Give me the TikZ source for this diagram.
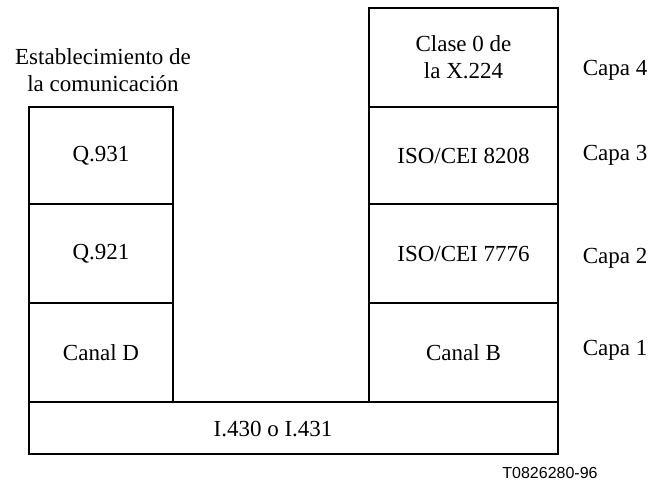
\documentclass[tikz,border=0pt]{standalone}
\usepackage{fontspec}
\setmainfont{Liberation Serif}
\newfontfamily\labsans{Liberation Sans}
\begin{document}
\begin{tikzpicture}[x=1pt,y=-1pt,
  lbox/.style={draw, line width=1.4pt, inner sep=0pt, minimum width=144pt, font=\fontsize{23}{27}\selectfont, align=center},
  rbox/.style={draw, line width=1.4pt, inner sep=0pt, minimum width=189pt, font=\fontsize{23}{27}\selectfont, align=center},
  txt/.style={inner sep=0pt, font=\fontsize{23}{27}\selectfont, align=center}]
\useasboundingbox (0,0) rectangle (653,482);
% bottom bar
\node[draw, line width=1.4pt, inner sep=0pt, minimum width=529pt, minimum height=52pt] (bar) at (293.5,428) {};
\node[txt] (bartxt) at (273,429) {I.430 o I.431};
% left column
\node[lbox, minimum height=97pt] (q931) at (101,155.5) {Q.931};
\node[lbox, minimum height=99pt] (q921) at (101,253.5) {Q.921};
\node[lbox, minimum height=99pt] (cand) at (101,352.5) {Canal D};
% right column
\node[rbox, minimum height=99pt] (x224) at (463.5,57.5) {Clase 0 de\\la X.224};
\node[rbox, minimum height=97pt] (iso8208) at (463.5,155.5) {ISO/CEI 8208};
\node[rbox, minimum height=99pt] (iso7776) at (463.5,253.5) {ISO/CEI 7776};
\node[rbox, minimum height=99pt] (canb) at (463.5,352.5) {Canal B};
% labels
\node[txt] (estab) at (103,70) {Establecimiento de\\la comunicación};
\node[txt] (capa4) at (615,70) {Capa 4};
\node[txt] (capa3) at (615,155.5) {Capa 3};
\node[txt] (capa2) at (615,258) {Capa 2};
\node[txt] (capa1) at (615,350) {Capa 1};
\node[inner sep=0pt, font=\labsans\fontsize{16}{18}\selectfont] (code) at (550,473) {T0826280-96};
\end{tikzpicture}
\end{document}
